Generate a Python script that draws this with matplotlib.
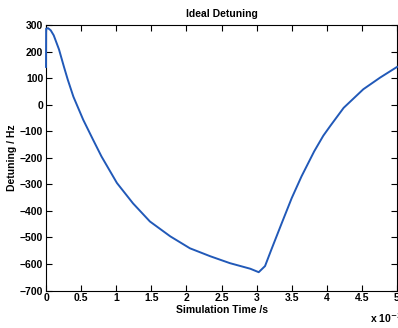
import matplotlib
matplotlib.use('Agg')
import matplotlib.pyplot as plt

# Detuning over simulation time (time in ms, detuning in Hz)
time_ms = [0.0, 0.002, 0.03, 0.067, 0.11, 0.185, 0.256, 0.31, 0.39, 0.53,
           0.67, 0.79, 1.01, 1.24, 1.48, 1.77, 2.05, 2.34, 2.62, 2.91, 3.03,
           3.12, 3.21, 3.36, 3.50, 3.64, 3.82, 3.95, 4.05, 4.24, 4.52, 4.76, 5.0]
detuning_hz = [142, 286, 288, 280, 261, 208, 142, 94, 30, -57,
               -132, -195, -295, -372, -440, -496, -541, -571, -597, -618, -631,
               -608, -546, -445, -352, -270, -176, -117, -80, -12, 58, 102, 142]

x_ticks = [0, 0.5, 1, 1.5, 2, 2.5, 3, 3.5, 4, 4.5, 5]
y_ticks = list(range(-700, 301, 100))

plt.rcParams['font.family'] = ['Liberation Sans', 'DejaVu Sans']
plt.rcParams['font.weight'] = 'bold'
plt.rcParams['font.size'] = 7.5

fig = plt.figure(figsize=(3.98, 3.28), dpi=100)
ax = fig.add_axes([0.1156, 0.1143, 0.8819, 0.8095])

ax.plot(time_ms, detuning_hz, color='#2159b8', linewidth=1.4,
        clip_on=False, zorder=3)

ax.set_xlim(0, 5)
ax.set_ylim(-700, 300)
ax.set_xticks(x_ticks)
ax.set_xticklabels(['%g' % t for t in x_ticks])
ax.set_yticks(y_ticks)
ax.tick_params(direction='in', length=4, width=0.8, top=True, right=True,
               labelsize=7.5, pad=2)
for s in ax.spines.values():
    s.set_linewidth(0.8)

ax.set_title('Ideal Detuning', fontsize=7.5, fontweight='bold', pad=6)
ax.set_xlabel('Simulation Time /s', fontsize=7.5, fontweight='bold', labelpad=1)
ax.set_ylabel('Detuning / Hz', fontsize=7.5, fontweight='bold', labelpad=2)

# exponent for the time axis
fig.text(0.93, 0.015, r'x 10$^{-3}$', fontsize=7.5, fontweight='bold')

fig.savefig('out.png', dpi=100)
